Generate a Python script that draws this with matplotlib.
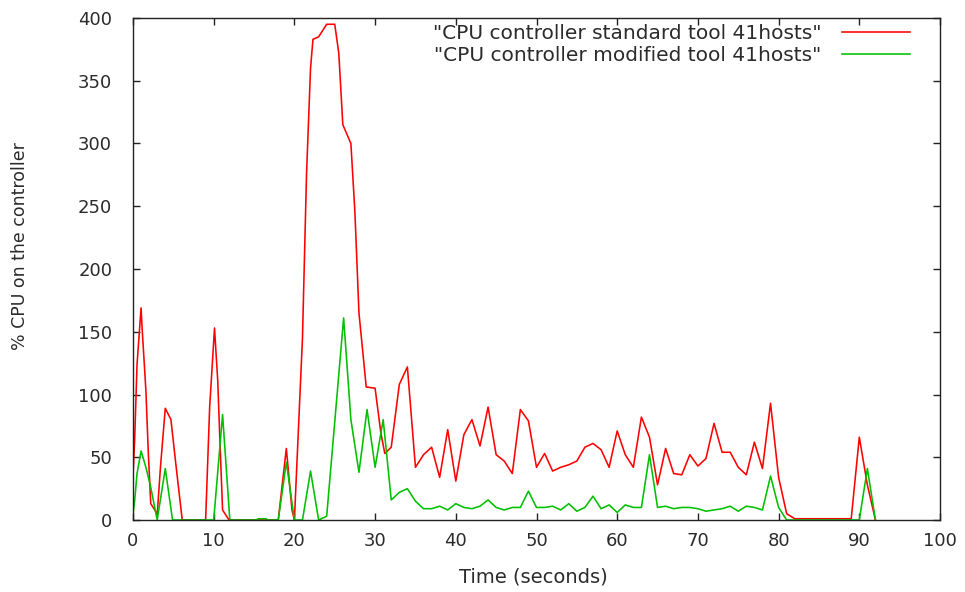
import matplotlib
matplotlib.use("Agg")
import matplotlib.pyplot as plt
from matplotlib.ticker import MultipleLocator

plt.rcParams['font.family'] = ['DejaVu Sans']

# controller CPU samples, standard tool (41 hosts)
t_std = [0, 0.2, 0.5, 1.0, 1.1, 1.6, 1.9, 2.2, 2.8, 3.0, 3.4, 4.0, 4.7, 5.3, 6.1,
         9.0, 9.5, 10.1, 10.5, 10.8, 11.1, 11.9, 18, 19, 19.7, 20,
         21, 21.5, 22, 22.3, 23, 23.4, 24, 25, 25.5, 26, 27, 27.5, 28, 28.9,
         30, 30.7, 31.2, 32, 33, 34, 35, 36, 37, 38, 39, 40, 41, 42, 43, 44,
         45, 46, 47, 48, 49, 50, 51, 52, 53, 54, 55, 56, 57, 58, 59, 60, 61,
         62, 63, 64, 65, 66, 67, 68, 69, 70, 71, 72, 73, 74, 75, 76, 77, 78,
         79, 80, 81, 82, 83, 84, 85, 86, 87, 88, 89, 90, 91, 92]
cpu_std = [35, 63, 124, 169, 156, 103, 53, 13, 7, 4, 42, 89, 80, 45, 0,
           0, 90, 153, 111, 58, 8, 0, 0, 57, 8, 0,
           145, 275, 360, 383, 385, 389, 395, 395, 372, 315, 300, 245, 165, 106,
           105, 70, 53, 58, 108, 122, 42, 52, 58, 34, 72, 31, 68, 80, 59, 90,
           52, 47, 37, 88, 79, 42, 53, 39, 42, 44, 47, 58, 61, 56, 42, 71, 52,
           42, 82, 66, 28, 57, 37, 36, 52, 43, 49, 77, 54, 54, 42, 36, 62, 41,
           93, 34, 5, 1, 1, 1, 1, 1, 1, 1, 1, 66, 28, 0]

# controller CPU samples, modified tool (41 hosts)
t_mod = [0, 0.2, 0.5, 1.0, 1.6, 2.2, 3.0, 4.0, 4.9, 10, 11.1, 12,
         15.3, 15.5, 16.5, 16.7, 18, 19, 20, 21, 22, 23, 24, 26.1, 27, 28,
         29, 30, 31, 32, 33, 34, 35, 36, 37, 38, 39, 40, 41, 42, 43, 44, 45,
         46, 47, 48, 49, 50, 51, 52, 53, 54, 55, 56, 57, 58, 59, 60, 61, 62,
         63, 64, 65, 66, 67, 68, 69, 70, 71, 72, 73, 74, 75, 76, 77, 78, 79,
         80, 81, 90, 91, 92]
cpu_mod = [5, 15, 37, 55, 42, 26, 0, 41, 0, 0, 84, 0,
           0, 1, 1, 0, 0, 46, 0, 0, 39, 0, 3, 161, 80, 38,
           88, 42, 80, 16, 22, 25, 15, 9, 9, 11, 8, 13, 10, 9, 11, 16, 10,
           8, 10, 10, 23, 10, 10, 11, 8, 13, 7, 10, 19, 9, 12, 6, 12, 10,
           10, 52, 10, 11, 9, 10, 10, 9, 7, 8, 9, 11, 7, 11, 10, 8, 35,
           10, 0, 0, 41, 0]

label_std = '"CPU controller standard tool 41hosts"'
label_mod = '"CPU controller modified tool 41hosts"'

text_col = '#2b2b2b'

fig = plt.figure(figsize=(9.65, 5.92), dpi=100)
ax = fig.add_axes([133 / 965, 1 - 520 / 592, 807 / 965, 502 / 592])

ax.plot(t_std, cpu_std, color='#ff0000', lw=1.15, label=label_std)
ax.plot(t_mod, cpu_mod, color='#00c000', lw=1.15, label=label_mod)

ax.set_xlim(0, 100)
ax.set_ylim(0, 400)
ax.xaxis.set_major_locator(MultipleLocator(10))
ax.yaxis.set_major_locator(MultipleLocator(50))
ax.tick_params(direction='in', length=5, width=1, top=True, right=True,
               labelsize=13, labelcolor=text_col, colors='#222222')
ax.tick_params(axis='x', pad=9)
ax.tick_params(axis='y', pad=15)
for s in ax.spines.values():
    s.set_color('#222222')
    s.set_linewidth(1.0)

fig.text(20 / 965, 1 - 246 / 592, '% CPU on the controller', rotation=90,
         ha='center', va='center', fontsize=12.5, color=text_col)
fig.text(533 / 965, 1 - 577 / 592, 'Time (seconds)', ha='center', va='center',
         fontsize=14, color=text_col)

leg = ax.legend(loc='upper right', frameon=False, markerfirst=False,
                fontsize=14.5, handlelength=3.4, handletextpad=1.0,
                labelspacing=0.15, borderaxespad=0.0,
                bbox_to_anchor=(0.973, 1.004))
for txt in leg.get_texts():
    txt.set_color(text_col)
    txt.set_ha('right')

fig.savefig('out.png', dpi=100)
